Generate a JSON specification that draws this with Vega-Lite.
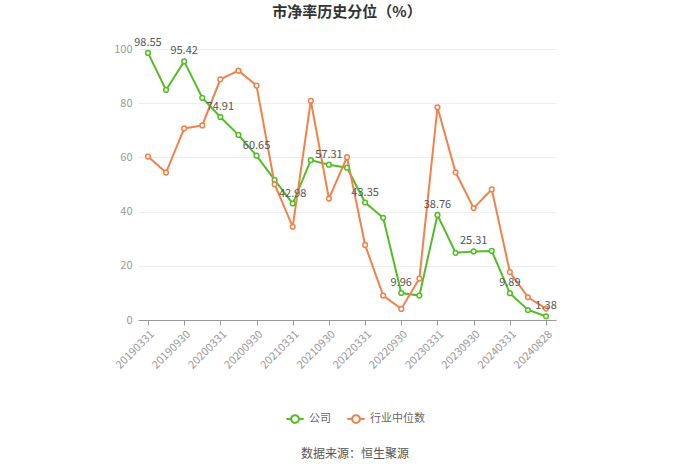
{
  "$schema": "https://vega.github.io/schema/vega-lite/v6.json",
  "width": 418,
  "height": 271,
  "padding": {"left": 113, "top": 4, "right": 10, "bottom": 5},
  "background": "white",
  "config": {
    "font": "Noto Sans CJK SC",
    "view": {"stroke": null}
  },
  "title": {
    "text": "市净率历史分位（%）",
    "fontSize": 15,
    "fontWeight": "bold",
    "color": "#333333",
    "anchor": "middle",
    "offset": 17
  },
  "data": {
    "values": [
      {"date": "20190331", "series": "公司", "value": 98.55},
      {"date": "20190630", "series": "公司", "value": 84.9},
      {"date": "20190930", "series": "公司", "value": 95.42},
      {"date": "20191231", "series": "公司", "value": 82.0},
      {"date": "20200331", "series": "公司", "value": 74.91},
      {"date": "20200630", "series": "公司", "value": 68.3},
      {"date": "20200930", "series": "公司", "value": 60.65},
      {"date": "20201231", "series": "公司", "value": 51.7},
      {"date": "20210331", "series": "公司", "value": 42.98},
      {"date": "20210630", "series": "公司", "value": 59.0},
      {"date": "20210930", "series": "公司", "value": 57.31},
      {"date": "20211231", "series": "公司", "value": 56.2},
      {"date": "20220331", "series": "公司", "value": 43.35},
      {"date": "20220630", "series": "公司", "value": 37.7},
      {"date": "20220930", "series": "公司", "value": 9.96},
      {"date": "20221231", "series": "公司", "value": 9.0},
      {"date": "20230331", "series": "公司", "value": 38.76},
      {"date": "20230630", "series": "公司", "value": 24.8},
      {"date": "20230930", "series": "公司", "value": 25.31},
      {"date": "20231231", "series": "公司", "value": 25.5},
      {"date": "20240331", "series": "公司", "value": 9.89},
      {"date": "20240630", "series": "公司", "value": 3.7},
      {"date": "20240828", "series": "公司", "value": 1.38},
      {"date": "20190331", "series": "行业中位数", "value": 60.3},
      {"date": "20190630", "series": "行业中位数", "value": 54.4},
      {"date": "20190930", "series": "行业中位数", "value": 70.7},
      {"date": "20191231", "series": "行业中位数", "value": 71.8},
      {"date": "20200331", "series": "行业中位数", "value": 88.8},
      {"date": "20200630", "series": "行业中位数", "value": 92.0},
      {"date": "20200930", "series": "行业中位数", "value": 86.5},
      {"date": "20201231", "series": "行业中位数", "value": 50.1},
      {"date": "20210331", "series": "行业中位数", "value": 34.4},
      {"date": "20210630", "series": "行业中位数", "value": 80.9},
      {"date": "20210930", "series": "行业中位数", "value": 44.8},
      {"date": "20211231", "series": "行业中位数", "value": 60.1},
      {"date": "20220331", "series": "行业中位数", "value": 27.7},
      {"date": "20220630", "series": "行业中位数", "value": 9.0},
      {"date": "20220930", "series": "行业中位数", "value": 4.1},
      {"date": "20221231", "series": "行业中位数", "value": 15.3},
      {"date": "20230331", "series": "行业中位数", "value": 78.5},
      {"date": "20230630", "series": "行业中位数", "value": 54.5},
      {"date": "20230930", "series": "行业中位数", "value": 41.3},
      {"date": "20231231", "series": "行业中位数", "value": 48.2},
      {"date": "20240331", "series": "行业中位数", "value": 17.7},
      {"date": "20240630", "series": "行业中位数", "value": 8.4},
      {"date": "20240828", "series": "行业中位数", "value": 4.2}
    ]
  },
  "encoding": {
    "x": {
      "field": "date",
      "type": "ordinal",
      "scale": {"type": "point", "padding": 0.55},
      "axis": {
        "title": null,
        "values": ["20190331", "20190930", "20200331", "20200930", "20210331", "20210930", "20220331", "20220930", "20230331", "20230930", "20240331", "20240828"],
        "labelAngle": -45,
        "labelColor": "#999999",
        "labelFontSize": 11,
        "domainColor": "#999999",
        "tickColor": "#999999",
        "tickSize": 5,
        "labelPadding": 3,
        "grid": false
      }
    },
    "y": {
      "field": "value",
      "type": "quantitative",
      "scale": {"domain": [0, 100]},
      "axis": {
        "title": null,
        "values": [0, 20, 40, 60, 80, 100],
        "labelColor": "#999999",
        "labelFontSize": 11,
        "labelPadding": 6,
        "domain": false,
        "ticks": false,
        "gridColor": "#eeeeee"
      }
    }
  },
  "layer": [
    {
      "mark": {"type": "line", "strokeWidth": 2},
      "encoding": {
        "color": {
          "field": "series",
          "type": "nominal",
          "scale": {"domain": ["公司", "行业中位数"], "range": ["#52bd25", "#f2814c"]},
          "legend": {
            "title": "数据来源：恒生聚源",
            "titleOrient": "bottom",
            "titleAnchor": "middle",
            "titleFontWeight": "normal",
            "titleFontSize": 12,
            "titleColor": "#555555",
            "titlePadding": 22,
            "orient": "none",
            "legendX": 147,
            "legendY": 360,
            "direction": "horizontal",
            "labelColor": "#666666",
            "labelFontSize": 11,
            "symbolType": "M-1,0H-0.45M0.45,0H1M0.45,0A0.45,0.45 0 1,1 -0.45,0A0.45,0.45 0 1,1 0.45,0",
            "symbolSize": 300,
            "symbolStrokeWidth": 2,
            "symbolFillColor": "white",
            "columnPadding": 12
          }
        }
      }
    },
    {
      "mark": {"type": "point", "shape": "circle", "filled": false, "fill": "white", "fillOpacity": 1, "size": 22, "strokeWidth": 1.5},
      "encoding": {
        "stroke": {"field": "series", "type": "nominal", "scale": {"domain": ["公司", "行业中位数"], "range": ["#52bd25", "#f2814c"]}, "legend": null}
      }
    },
    {
      "transform": [
        {"filter": {"field": "series", "equal": "公司"}},
        {"filter": {"field": "date", "oneOf": ["20190331", "20190930", "20200331", "20200930", "20210331", "20210930", "20220331", "20220930", "20230331", "20230930", "20240331", "20240828"]}}
      ],
      "mark": {"type": "text", "dy": -10, "fontSize": 11, "color": "#555555"},
      "encoding": {
        "text": {"field": "value", "type": "quantitative", "format": ".2f"}
      }
    }
  ]
}
